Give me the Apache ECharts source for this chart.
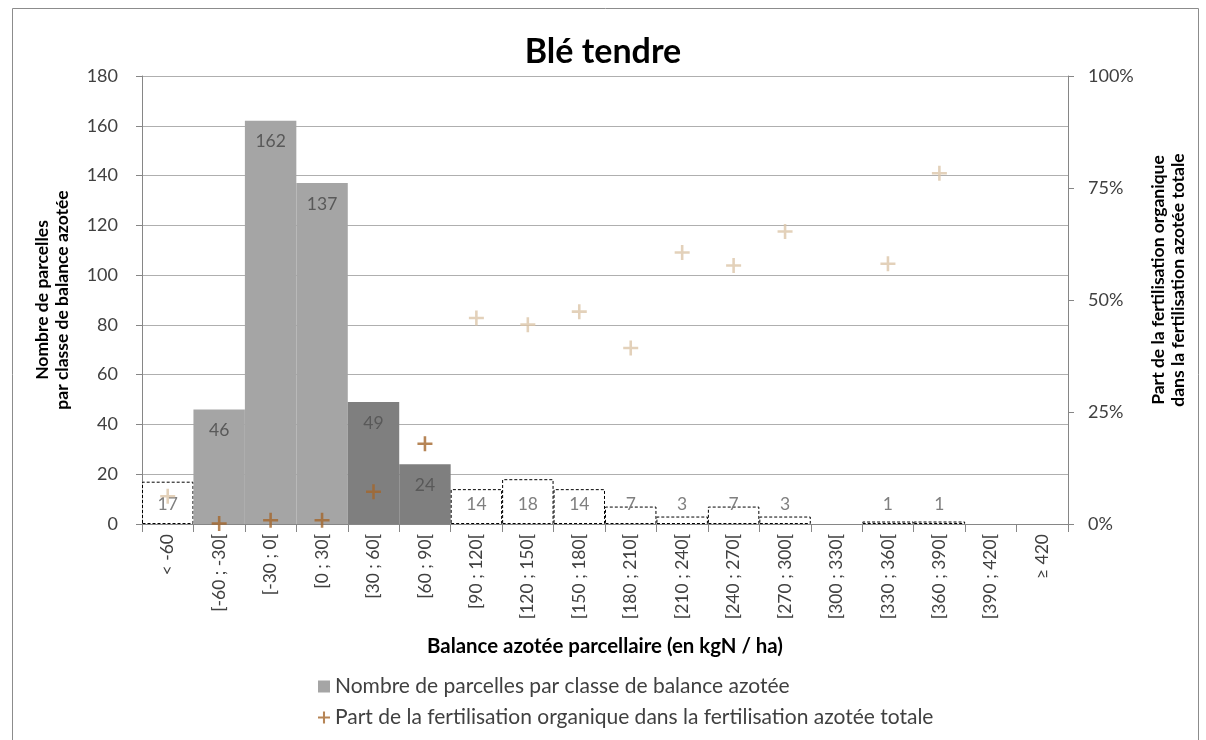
<!DOCTYPE html>
<html>
<head>
<meta charset="utf-8">
<script src="https://cdn.jsdelivr.net/npm/echarts@6/dist/echarts.min.js"></script>
<style>html,body{margin:0;padding:0;background:#fff}#c{width:1206px;height:740px}</style>
</head>
<body>
<div id="c"></div>
<script>
const categories = ['< -60','[-60 ; -30[','[-30 ; 0[','[0 ; 30[','[30 ; 60[','[60 ; 90[','[90 ; 120[','[120 ; 150[','[150 ; 180[','[180 ; 210[','[210 ; 240[','[240 ; 270[','[270 ; 300[','[300 ; 330[','[330 ; 360[','[360 ; 390[','[390 ; 420[','≥ 420'];
const parcelCounts = [17, 46, 162, 137, 49, 24, 14, 18, 14, 7, 3, 7, 3, 0, 1, 1, 0, 0];
const organicShare = [0.062, 0.001, 0.0085, 0.0085, 0.072, 0.179, 0.46, 0.445, 0.474, 0.393, 0.606, 0.577, 0.653, null, 0.581, 0.783, null, null];
const leftTicks = [0, 180, 20];
const rightTicks = [0, 1, 0.25];

const FONT = 'Lato';
const lightIdx = [1, 2, 3];
const darkIdx = [4, 5];
const plusPath = 'path://M-1.2,-7L1.2,-7L1.2,-1.2L7,-1.2L7,1.2L1.2,1.2L1.2,7L-1.2,7L-1.2,1.2L-7,1.2L-7,-1.2L-1.2,-1.2Z';

const barData = parcelCounts.map((v, i) => {
  let itemStyle;
  if (lightIdx.includes(i)) itemStyle = { color: '#A5A5A5' };
  else if (darkIdx.includes(i)) itemStyle = { color: '#7F7F7F' };
  else if (v === 0) itemStyle = { color: 'rgba(0,0,0,0)', borderWidth: 0 };
  else itemStyle = { color: '#FFFFFF', borderColor: '#000000', borderWidth: 1, borderType: [3, 2] };
  const small = v < 20;
  return {
    value: v,
    itemStyle,
    label: {
      show: v > 0,
      position: small ? 'insideBottom' : 'insideTop',
      distance: small ? 11 : 12,
      color: (lightIdx.includes(i) || darkIdx.includes(i)) ? '#595959' : '#7F7F7F'
    }
  };
});

const scatterData = organicShare.map((v, i) => ({
  value: v === null ? '-' : v,
  itemStyle: { color: (i >= 1 && i <= 5) ? '#A4662C' : '#DCC5A9' }
}));

const chart = echarts.init(document.getElementById('c'));
chart.setOption({
  animation: false,
  backgroundColor: '#fff',
  textStyle: { fontFamily: FONT },
  title: {
    text: 'Blé tendre', left: 'center', top: 30,
    textStyle: { fontFamily: FONT, fontSize: 34, fontWeight: 'bold', color: '#000' }
  },
  graphic: [{
    type: 'rect', left: 10, top: 6, silent: true,
    shape: { width: 1186, height: 760 },
    style: { fill: 'none', stroke: '#8C8C8C', lineWidth: 1 }
  }],
  grid: { left: 142, right: 138, top: 76, bottom: 216 },
  legend: {
    orient: 'vertical', left: 313, top: 671, itemGap: 10,
    itemWidth: 12, itemHeight: 12,
    textStyle: { fontFamily: FONT, fontSize: 21, color: '#404040' },
    data: [
      { name: 'Nombre de parcelles par classe de balance azotée', icon: 'rect', itemStyle: { color: '#A5A5A5' } },
      { name: 'Part de la fertilisation organique dans la fertilisation azotée totale', icon: plusPath, itemStyle: { color: '#A4662C' } }
    ]
  },
  xAxis: {
    type: 'category', data: categories,
    name: 'Balance azotée parcellaire (en kgN / ha)',
    nameLocation: 'middle', nameGap: 112,
    nameTextStyle: { fontFamily: FONT, fontSize: 20.4, fontWeight: 'bold', color: '#000' },
    axisLine: { lineStyle: { color: '#868686' } },
    axisTick: { show: true, length: 8, lineStyle: { color: '#868686' } },
    axisLabel: { rotate: 90, interval: 0, margin: 10, fontFamily: FONT, fontSize: 17.5, color: '#404040' }
  },
  yAxis: [{
    type: 'value', min: leftTicks[0], max: leftTicks[1], interval: leftTicks[2],
    name: 'Nombre de parcelles\npar classe de balance azotée',
    nameLocation: 'middle', nameGap: 70, nameRotate: 90,
    nameTextStyle: { fontFamily: FONT, fontSize: 17.5, fontWeight: 'bold', color: '#000', lineHeight: 20 },
    axisLine: { show: true, lineStyle: { color: '#868686' } },
    axisTick: { show: true, length: 6, lineStyle: { color: '#868686' } },
    axisLabel: { fontFamily: FONT, fontSize: 18, color: '#404040', margin: 24 },
    splitLine: { lineStyle: { color: '#AFAFAF' } }
  }, {
    type: 'value', position: 'right', min: rightTicks[0], max: rightTicks[1], interval: rightTicks[2],
    name: 'Part de la fertilisation organique\ndans la fertilisation azotée totale',
    nameLocation: 'middle', nameGap: 80, nameRotate: 90,
    nameTextStyle: { fontFamily: FONT, fontSize: 17.5, fontWeight: 'bold', color: '#000', lineHeight: 20, padding: [0, 0, 0, 40] },
    axisLine: { show: true, lineStyle: { color: '#868686' } },
    axisTick: { show: true, length: 6, lineStyle: { color: '#868686' } },
    axisLabel: { fontFamily: FONT, fontSize: 18, color: '#404040', margin: 20, formatter: v => Math.round(v * 100) + '%' },
    splitLine: { show: false }
  }],
  series: [{
    name: 'Nombre de parcelles par classe de balance azotée',
    type: 'bar', yAxisIndex: 0, barCategoryGap: 0, barGap: '-100%',
    itemStyle: { color: '#A5A5A5' },
    label: { fontFamily: FONT, fontSize: 17.5 },
    data: barData, z: 2
  }, {
    name: 'Part de la fertilisation organique dans la fertilisation azotée totale',
    type: 'scatter', yAxisIndex: 1, symbol: plusPath, symbolSize: 15,
    itemStyle: { color: '#A4662C' },
    data: scatterData, z: 5
  }]
});
</script>
</body>
</html>
